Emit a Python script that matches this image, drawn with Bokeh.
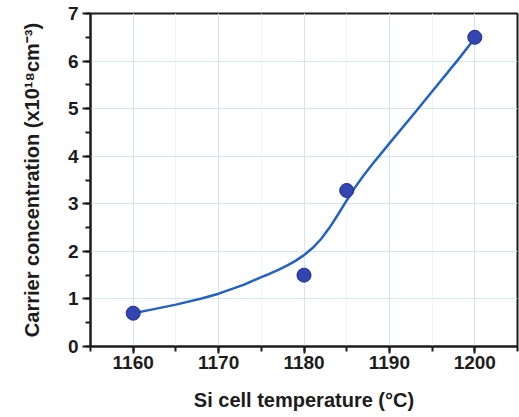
from bokeh.plotting import figure
from bokeh.models import Range1d, SingleIntervalTicker, ColumnDataSource
from bokeh.embed import file_html
from bokeh.resources import INLINE

# measured data points
temps = [1160, 1180, 1185, 1200]
conc = [0.70, 1.50, 3.28, 6.50]

# fitted curve
fit_x = [1160, 1162, 1165, 1168, 1170, 1173, 1175, 1176, 1177, 1178, 1179,
         1180, 1181, 1182, 1183, 1184, 1185, 1186, 1187, 1188, 1190, 1193,
         1195, 1198, 1200]
fit_y = [0.70, 0.77, 0.88, 1.01, 1.11, 1.30, 1.46, 1.53, 1.61, 1.70, 1.80,
         1.92, 2.07, 2.26, 2.50, 2.78, 3.07, 3.35, 3.60, 3.83, 4.27, 4.92,
         5.36, 6.02, 6.48]

x_ticks = [1160, 1170, 1180, 1190, 1200]
y_ticks = [0, 1, 2, 3, 4, 5, 6, 7]

FONT = "Liberation Sans"
DARK = "#1c1c1c"

p = figure(width=519, height=417, output_backend="svg", toolbar_location=None,
           x_range=Range1d(1155, 1205), y_range=Range1d(0, 7),
           min_border_left=90, min_border_right=2, min_border_top=13,
           min_border_bottom=71)
p.background_fill_color = "white"
p.border_fill_color = "white"
p.outline_line_color = DARK
p.outline_line_width = 2

p.line(fit_x, fit_y, line_color="#2462c0", line_width=2.5)
src = ColumnDataSource(dict(x=temps, y=conc))
p.scatter("x", "y", source=src, size=14, fill_color="#3245b0",
          line_color="#1f2c88", line_width=1)

p.xaxis.ticker = SingleIntervalTicker(interval=10, num_minor_ticks=2)
p.yaxis.ticker = SingleIntervalTicker(interval=1, num_minor_ticks=2)

for ax in (p.xaxis[0], p.yaxis[0]):
    ax.axis_line_color = DARK
    ax.axis_line_width = 2
    ax.major_tick_line_color = DARK
    ax.major_tick_line_width = 2
    ax.minor_tick_line_color = DARK
    ax.minor_tick_line_width = 2
    ax.major_tick_out = 7
    ax.major_tick_in = 0
    ax.minor_tick_out = 5
    ax.minor_tick_in = 0
    ax.major_label_text_font = FONT
    ax.major_label_text_font_style = "bold"
    ax.major_label_text_font_size = "19px"
    ax.major_label_text_color = DARK
    ax.axis_label_text_font = FONT
    ax.axis_label_text_font_style = "bold"
    ax.axis_label_text_font_size = "20px"
    ax.axis_label_text_color = DARK

p.yaxis.major_tick_out = 8
p.xaxis.axis_label = "Si cell temperature (°C)"
p.yaxis.axis_label = "Carrier concentration (x10¹⁸cm⁻³)"
p.xaxis.major_label_standoff = 2
p.yaxis.major_label_standoff = 4
p.xaxis.axis_label_standoff = 17
p.yaxis.axis_label_standoff = 22

p.xgrid.grid_line_color = "#d6e6f0"
p.ygrid.grid_line_color = "#d6e6f0"
p.xgrid.grid_line_width = 1
p.ygrid.grid_line_width = 1
p.xgrid.minor_grid_line_color = "#eef4f8"

open("out.html", "w").write(file_html(p, INLINE))
